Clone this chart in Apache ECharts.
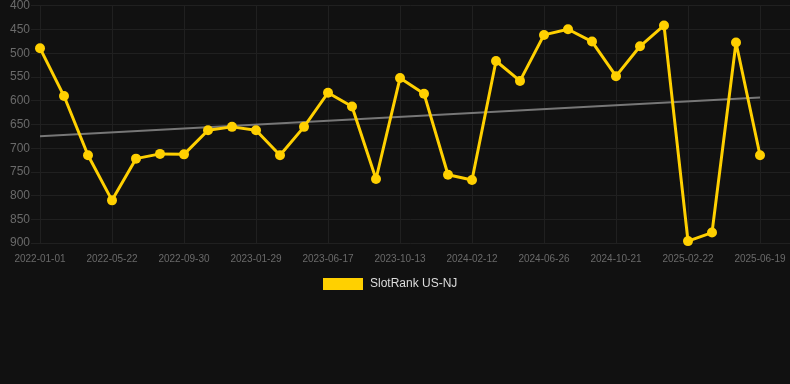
<!DOCTYPE html>
<html>
<head>
<meta charset="utf-8">
<script src="https://cdn.jsdelivr.net/npm/echarts@6/dist/echarts.min.js"></script>
<style>
html,body{margin:0;padding:0;background:#111111;}
#chart{width:790px;height:384px;}
</style>
</head>
<body>
<div id="chart"></div>
<script>
const categories = [
  "2022-01-01","2022-02-17","2022-04-05","2022-05-22","2022-07-05","2022-08-17",
  "2022-09-30","2022-11-09","2022-12-20","2023-01-29","2023-03-15","2023-05-02",
  "2023-06-17","2023-07-27","2023-09-04","2023-10-13","2023-11-22","2024-01-02",
  "2024-02-12","2024-03-28","2024-05-12","2024-06-26","2024-08-04","2024-09-12",
  "2024-10-21","2024-12-01","2025-01-11","2025-02-22","2025-04-01","2025-05-10",
  "2025-06-19"
];
const rankValues = [
  489, 590, 715, 810, 722, 712, 713, 662, 655, 662, 715, 655,
  583, 612, 765, 552, 585, 756, 767, 516, 558, 461, 449, 475,
  548, 485, 441, 896, 878, 477, 715
];
const trendStart = 675;
const trendEnd = 593;
const yTicks = [400, 900, 50];
const seriesName = "SlotRank US-NJ";

const font = 'Liberation Sans, Arial, sans-serif';
const chart = echarts.init(document.getElementById('chart'), null, {renderer: 'canvas'});
chart.setOption({
  backgroundColor: '#111111',
  animation: false,
  grid: [
    {left: 40, right: 30, top: 5.5, bottom: 141, containLabel: false},
    {left: 31, right: 0, top: 5.5, bottom: 141, containLabel: false}
  ],
  legend: {
    data: [{name: seriesName, icon: 'rect'}],
    top: 273,
    left: 318,
    itemWidth: 40,
    itemHeight: 12,
    itemGap: 10,
    textStyle: {color: '#dddddd', fontSize: 12, fontFamily: font, padding: [0, 0, 0, 2]}
  },
  xAxis: [
    {
      type: 'category',
      gridIndex: 0,
      data: categories,
      boundaryGap: false,
      axisLine: {show: false},
      axisTick: {show: false},
      axisLabel: {interval: 2, color: '#6a6a6a', fontSize: 10, margin: 11, fontFamily: font},
      splitLine: {show: true, interval: 2, lineStyle: {color: '#202020', width: 1}}
    },
    {
      type: 'value',
      gridIndex: 1,
      min: 0, max: 1,
      show: false
    }
  ],
  yAxis: [
    {
      type: 'value',
      gridIndex: 0,
      inverse: true,
      min: yTicks[0],
      max: yTicks[1],
      interval: yTicks[2],
      axisLine: {show: false},
      axisTick: {show: false},
      axisLabel: {color: '#6a6a6a', fontSize: 12, margin: 10, fontFamily: font},
      splitLine: {show: false}
    },
    {
      type: 'value',
      gridIndex: 1,
      inverse: true,
      min: yTicks[0],
      max: yTicks[1],
      interval: yTicks[2],
      axisLine: {show: false},
      axisTick: {show: false},
      axisLabel: {show: false},
      splitLine: {show: true, lineStyle: {color: '#202020', width: 1}}
    }
  ],
  series: [
    {
      name: 'gridlines',
      type: 'line',
      xAxisIndex: 1,
      yAxisIndex: 1,
      data: [],
      silent: true
    },
    {
      name: 'trend',
      type: 'line',
      data: [[categories[0], trendStart], [categories[categories.length - 1], trendEnd]],
      symbol: 'none',
      lineStyle: {color: '#777777', width: 2},
      silent: true,
      z: 3
    },
    {
      name: seriesName,
      type: 'line',
      data: rankValues,
      symbol: 'circle',
      symbolSize: 10,
      lineStyle: {color: '#FFD000', width: 3},
      itemStyle: {color: '#FFD000'},
      z: 4
    }
  ]
});
</script>
</body>
</html>
